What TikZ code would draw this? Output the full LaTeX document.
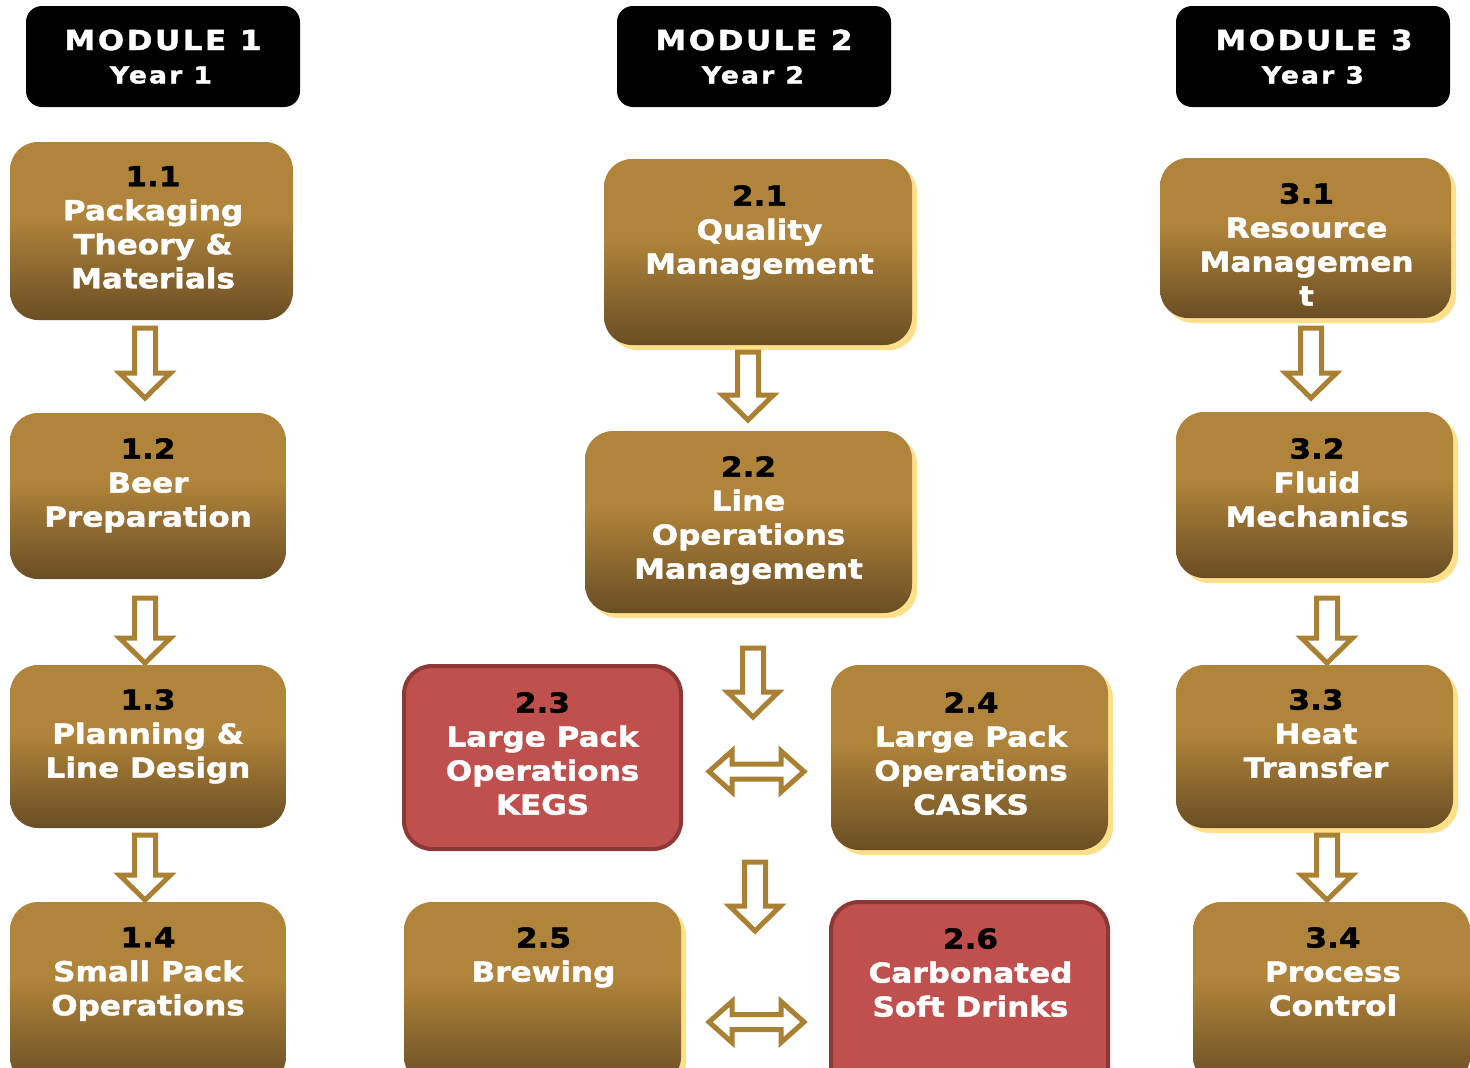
\documentclass[tikz,border=0pt]{standalone}
\usepackage{fontspec}
\setmainfont{DejaVu Sans}
\newfontfamily\boxfont[FakeStretch=1.13,FakeBold=1.6]{DejaVu Sans}
\newfontfamily\hdrfont[FakeStretch=1.13,FakeBold=1.6,LetterSpace=9]{DejaVu Sans}
\usetikzlibrary{shadows}
\definecolor{goldtop}{HTML}{B0843A}
\definecolor{golddark}{HTML}{6A4E24}
\definecolor{shadowy}{HTML}{FFE08A}
\definecolor{redfill}{HTML}{C0504D}
\definecolor{redline}{HTML}{8C3836}
\definecolor{arrowgold}{HTML}{AA8032}
\pgfdeclareverticalshading{goldshade}{100bp}{color(0bp)=(golddark); color(25bp)=(golddark); color(54bp)=(goldtop); color(100bp)=(goldtop)}
\tikzset{
  hdr/.style={rectangle, rounded corners=16pt, fill=black, inner sep=0pt},
  goldbox/.style={rectangle, rounded corners=28pt, shade, shading=goldshade, inner sep=0pt},
  glow/.style={drop shadow={shadow xshift=5pt, shadow yshift=-5pt, fill=shadowy, draw=none, opacity=1}},
  redbox/.style={rectangle, rounded corners=28pt, fill=redfill, draw=redline, line width=4pt, inner sep=0pt},
  txt/.style={text=white, align=center, anchor=north, inner sep=0pt, font=\boxfont\bfseries\fontsize{27.5}{34}\selectfont},
  hdrtop/.style={text=white, inner sep=0pt, font=\hdrfont\bfseries\fontsize{27.5}{30}\selectfont},
  hdrbot/.style={text=white, inner sep=0pt, font=\hdrfont\bfseries\fontsize{23.5}{26}\selectfont},
  hollow/.style={draw=arrowgold, fill=white, line width=5pt, line join=miter},
  pics/downarr/.style={code={\draw[hollow] (-10.5,0) -- (-10.5,#1-25) -- (-25.5,#1-25) -- (0,#1) -- (25.5,#1-25) -- (10.5,#1-25) -- (10.5,0) -- cycle;}},
  pics/lrarr/.style={code={\draw[hollow] (0,0) -- (23,-20.5) -- (23,-7.5) -- (#1-23,-7.5) -- (#1-23,-20.5) -- (#1,0) -- (#1-23,20.5) -- (#1-23,7.5) -- (23,7.5) -- (23,20.5) -- cycle;}}
}
\newcommand{\num}[1]{\textcolor{black}{#1}}
\begin{document}
\begin{tikzpicture}[x=1pt,y=-1pt]
\useasboundingbox (0,0) rectangle (1470,1068);
\clip (0,0) rectangle (1470,1068);
\fill[white] (0,0) rectangle (1470,1068);

% headers
\node[hdr, minimum width=274pt, minimum height=101pt] (h1) at (163,56.5) {};
\node[hdr, minimum width=274pt, minimum height=101pt] (h2) at (754,56.5) {};
\node[hdr, minimum width=274pt, minimum height=101pt] (h3) at (1313,56.5) {};
\node[hdrtop] (h1a) at (163,40) {MODULE\hspace{0.5em}1};
\node[hdrbot] (h1b) at (161,75) {Year 1};
\node[hdrtop] (h2a) at (754,40) {MODULE\hspace{0.5em}2};
\node[hdrbot] (h2b) at (753,75) {Year 2};
\node[hdrtop] (h3a) at (1314,40) {MODULE\hspace{0.5em}3};
\node[hdrbot] (h3b) at (1313,75) {Year 3};

% column 1
\node[goldbox, minimum width=283pt, minimum height=178pt] (b11) at (151.5,231) {};
\node[goldbox, minimum width=276pt, minimum height=166pt] (b12) at (148,496) {};
\node[goldbox, minimum width=276pt, minimum height=163pt] (b13) at (148,746.5) {};
\node[goldbox, minimum width=276pt, minimum height=183pt] (b14) at (148,993.5) {};
\node[txt] (t11) at (153,166) {\num{1.1}\\Packaging\\Theory \&\\Materials};
\node[txt] (t12) at (148,438) {\num{1.2}\\Beer\\Preparation};
\node[txt] (t13) at (148,689) {\num{1.3}\\Planning \&\\Line Design};
\node[txt] (t14) at (148,927) {\num{1.4}\\Small Pack\\Operations};
\pic at (145,328) {downarr=70};
\pic at (145,598) {downarr=65};
\pic at (145,835) {downarr=65};

% column 2
\node[goldbox, glow, minimum width=308pt, minimum height=186pt] (b21) at (758,252) {};
\node[goldbox, glow, minimum width=327pt, minimum height=182pt] (b22) at (748.5,522) {};
\node[redbox, minimum width=277pt, minimum height=183pt] (b23) at (542.5,757.5) {};
\node[goldbox, glow, minimum width=277pt, minimum height=185pt] (b24) at (969.5,757.5) {};
\node[goldbox, glow, minimum width=277pt, minimum height=183pt] (b25) at (542.5,993.5) {};
\node[redbox, minimum width=277pt, minimum height=196pt] (b26) at (969.5,1000) {};
\node[txt] (t21) at (759.5,185) {\num{2.1}\\Quality\\Management};
\node[txt] (t22) at (748.5,456) {\num{2.2}\\Line\\Operations\\Management};
\node[txt] (t23) at (542.5,692) {\num{2.3}\\Large Pack\\Operations\\KEGS};
\node[txt] (t24) at (971,692) {\num{2.4}\\Large Pack\\Operations\\CASKS};
\node[txt] (t25) at (543.5,927) {\num{2.5}\\Brewing};
\node[txt] (t26) at (970.5,928) {\num{2.6}\\Carbonated\\Soft Drinks};
\pic at (748,352) {downarr=68};
\pic at (753,648) {downarr=69};
\pic at (755,862) {downarr=69};
\pic at (709,771.5) {lrarr=95};
\pic at (709,1022) {lrarr=95};

% column 3
\node[goldbox, glow, minimum width=291pt, minimum height=160pt] (b31) at (1305.5,238) {};
\node[goldbox, glow, minimum width=277pt, minimum height=166pt] (b32) at (1314.5,495) {};
\node[goldbox, glow, minimum width=277pt, minimum height=163pt] (b33) at (1314.5,746.5) {};
\node[goldbox, minimum width=277pt, minimum height=183pt] (b34) at (1331.5,993.5) {};
\node[txt] (t31) at (1306.5,183) {\num{3.1}\\Resource\\Managemen\\t};
\node[txt] (t32) at (1317,438) {\num{3.2}\\Fluid\\Mechanics};
\node[txt] (t33) at (1316,689) {\num{3.3}\\Heat\\Transfer};
\node[txt] (t34) at (1333,927) {\num{3.4}\\Process\\Control};
\pic at (1311,328) {downarr=70};
\pic at (1327,598) {downarr=65};
\pic at (1327,835) {downarr=65};
\end{tikzpicture}
\end{document}
